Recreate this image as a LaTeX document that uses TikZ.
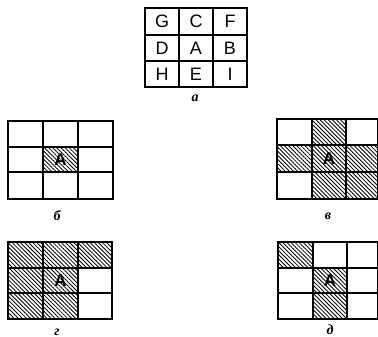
\documentclass[tikz,border=0pt]{standalone}
\usepackage{fontspec}
\setmainfont{Liberation Sans}
\newfontfamily\labfont{Liberation Serif}
\usetikzlibrary{patterns.meta}
\begin{document}
\begin{tikzpicture}[x=1pt,y=-1pt,
  gridline/.style={line width=1.4pt},
  hatch/.style={pattern={Lines[angle=-45,distance=2.9pt,line width=0.85pt]}},
  cellletter/.style={font=\fontsize{18}{18}\selectfont},
  boldA/.style={font=\fontsize{17}{17}\selectfont\bfseries},
  sublabel/.style={font=\labfont\bfseries\itshape\fontsize{14}{14}\selectfont}]
\useasboundingbox (0,0) rectangle (378,337);
% grid a
\draw[gridline] (145,8) rectangle (247,87);
\draw[gridline] (179,8) -- (179,87) (213,8) -- (213,87) (145,35) -- (247,35) (145,61) -- (247,61);
\node[cellletter] (g) at (162,21.5) {G};
\node[cellletter] (c) at (196,21.5) {C};
\node[cellletter] (f) at (230,21.5) {F};
\node[cellletter] (d) at (162,48) {D};
\node[cellletter] (a) at (196,48) {A};
\node[cellletter] (b) at (230,48) {B};
\node[cellletter] (h) at (162,74) {H};
\node[cellletter] (e) at (196,74) {E};
\node[cellletter] (i) at (230,74) {I};
\node[sublabel] (la) at (195,98) {а};
% grid b
\fill[hatch] (43,147) rectangle (78,172);
\draw[gridline] (8,121) rectangle (113,199);
\draw[gridline] (43,121) -- (43,199) (78,121) -- (78,199) (8,147) -- (113,147) (8,172) -- (113,172);
\node[boldA] (ab) at (60.5,159.5) {A};
\node[sublabel] (lb) at (57,216) {б};
% grid v
\fill[hatch] (312,119) rectangle (346,145);
\fill[hatch] (277,145) rectangle (378,172);
\fill[hatch] (312,172) rectangle (378,199);
\draw[gridline] (277,119) rectangle (378,199);
\draw[gridline] (312,119) -- (312,199) (346,119) -- (346,199) (277,145) -- (378,145) (277,172) -- (378,172);
\node[boldA] (av) at (329,158.5) {A};
\node[sublabel] (lv) at (328,216) {в};
% grid g
\fill[hatch] (8,242) rectangle (112,268);
\fill[hatch] (8,268) rectangle (78,319);
\draw[gridline] (8,242) rectangle (112,319);
\draw[gridline] (43,242) -- (43,319) (78,242) -- (78,319) (8,268) -- (112,268) (8,293) -- (112,293);
\node[boldA] (ag) at (60.5,280.5) {A};
\node[sublabel] (lg) at (57,332) {г};
% grid d
\fill[hatch] (278,242) rectangle (313,268);
\fill[hatch] (313,268) rectangle (347,319);
\draw[gridline] (278,242) rectangle (378,319);
\draw[gridline] (313,242) -- (313,319) (347,242) -- (347,319) (278,268) -- (378,268) (278,293) -- (378,293);
\node[boldA] (ad) at (330,280.5) {A};
\node[sublabel] (ld) at (330,330) {д};
\end{tikzpicture}
\end{document}
